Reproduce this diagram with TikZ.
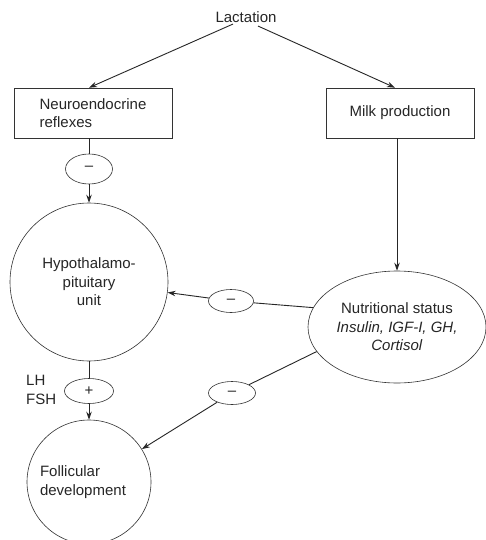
\documentclass[tikz,border=0pt]{standalone}
\usepackage{fontspec}
\setmainfont{Liberation Sans}
\usetikzlibrary{arrows.meta,shapes.geometric,calc}
\begin{document}
\begin{tikzpicture}[x=1pt,y=-1pt,
  every node/.style={font=\fontsize{15}{18.5}\selectfont, text=black!85},
  box/.style={draw=black!80, line width=0.6pt, rectangle, minimum width=158pt, minimum height=50pt, inner sep=0pt},
  sign/.style={draw=black!80, line width=0.6pt, ellipse, inner sep=0pt},
  bigcircle/.style={draw=black!80, line width=0.6pt, circle, inner sep=0pt},
  link/.style={draw=black!85, line width=0.9pt},
  arr/.style={link, -{Stealth[length=8pt,width=5.5pt]}}
]
\clip (0,0) rectangle (486,540);
\fill[white] (0,0) rectangle (486,540);

% top node and the two boxes
\node (lact) at (246,17) {Lactation};
\node[box, align=left] (neuro) at (93,113) {Neuroendocrine\\reflexes};
\node[box, minimum width=148pt] (milk) at (400,113) {Milk production};

% sign ellipses
\node[sign, minimum width=47pt, minimum height=30pt] (m1) at (89,169) {\raisebox{2pt}{--}};
\node[sign, minimum width=45pt, minimum height=23pt] (m2) at (231,301) {--};
\node[sign, minimum width=49pt, minimum height=25pt] (p) at (89,391) {+};
\node[sign, minimum width=47pt, minimum height=23pt] (m3) at (232,393) {--};

% large round nodes
\node[bigcircle, minimum size=158pt, align=center] (hyp) at (89,282) {Hypothalamo-\\pituitary\\unit};
\node[bigcircle, minimum size=124pt, align=left] (fol) at (89,482) {\hspace*{-12pt}Follicular\\\hspace*{-12pt}development};
\node[sign, minimum width=178pt, minimum height=112pt, align=center] (nut) at (397,327)
  {Nutritional status\\\textit{Insulin, IGF-I, GH,}\\\textit{Cortisol}};

% hormone label
\node[anchor=west, align=left, inner sep=0pt] (lhfsh) at (26,390) {LH\\FSH};

% connectors
\draw[arr] ($(lact.south)+(-13,-2)$) -- ($(neuro.north)+(-4,0)$);
\draw[arr] ($(lact.south)+(12,0)$) -- ($(milk.north)+(-5,0)$);
\draw[link] (neuro.south -| m1) -- (m1.north);
\draw[arr] (m1.south) -- (hyp.north);
\draw[arr] (milk.south -| nut.north) -- (nut.north);
\draw[link] (nut.167) -- (m2);
\draw[arr] (m2) -- (hyp);
\draw[link] (hyp.south) -- (p.north);
\draw[arr] (p.south) -- (fol.north);
\draw[link] (nut.197) -- (m3);
\draw[arr] (m3) -- (fol);
\end{tikzpicture}
\end{document}
